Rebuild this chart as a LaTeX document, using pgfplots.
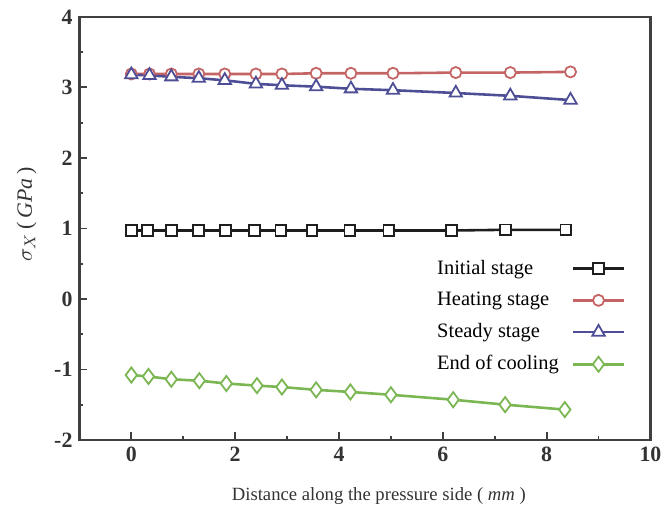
\documentclass[border=0pt]{standalone}
\usepackage{fontspec}
\setmainfont{Liberation Serif}
\usepackage{pgfplots}
\pgfplotsset{compat=1.18}

\definecolor{cinit}{RGB}{30,30,30}
\definecolor{cheat}{RGB}{196,100,100}
\definecolor{csteady}{RGB}{78,78,150}
\definecolor{ccool}{RGB}{122,182,82}

\begin{document}
\begin{tikzpicture}
\begin{axis}[
  scale only axis,
  width=287.5pt, height=213pt,
  xmin=-1, xmax=10, ymin=-2, ymax=4,
  xtick={0,2,4,6,8,10},
  ytick={-2,-1,0,1,2,3,4},
  minor x tick num=1,
  minor y tick num=1,
  tick pos=left,
  tick align=inside,
  major tick length=4pt,
  minor tick length=2pt,
  axis line style={line width=1.1pt, black!75},
  every tick/.style={line width=0.9pt, black!75},
  /pgf/number format/assume math mode=true,
  tick label style={font=\fontsize{11}{12}\selectfont\bfseries, black!80},
  xlabel={Distance along the pressure side ( \textit{mm} )},
  xlabel style={font=\fontsize{9.4}{11}\selectfont, black!80, yshift=-6pt, xshift=7pt},
  ylabel={$\sigma_{X}$\,(\,\textit{GPa}\,)},
  ylabel style={font=\fontsize{11}{12}\selectfont, black!80, yshift=2pt, xshift=7pt},
  legend style={draw=none, fill=none, at={(rel axis cs:0.967,0.445)}, anchor=north east,
    font=\fontsize{10.3}{11}\selectfont, row sep=3.5pt},
  legend cell align=left,
  legend plot pos=right,
  legend image code/.code={
    \path (0cm,0cm);
    \draw[mark repeat=2,mark phase=2] plot coordinates {(0.16cm,0cm) (0.61cm,0cm) (1.06cm,0cm)};
  },
  every axis plot/.append style={line width=1.3pt, mark options={solid, fill=white, line width=0.9pt}},
]

\addplot[cinit, mark=square*, mark size=2.7pt] coordinates {
  (0,0.97) (0.31,0.97) (0.77,0.97) (1.29,0.97) (1.81,0.97) (2.37,0.97) (2.88,0.97)
  (3.48,0.97) (4.21,0.97) (4.96,0.97) (6.17,0.97) (7.21,0.98) (8.37,0.98)
};
\addlegendentry{Initial stage}

\addplot[cheat, mark=*, mark size=2.8pt] coordinates {
  (0,3.19) (0.35,3.19) (0.77,3.19) (1.3,3.19) (1.8,3.19) (2.4,3.19) (2.9,3.19)
  (3.56,3.20) (4.23,3.20) (5.04,3.20) (6.25,3.21) (7.3,3.21) (8.46,3.22)
};
\addlegendentry{Heating stage}

\addplot[csteady, mark=triangle*, mark size=3.6pt] coordinates {
  (0,3.18) (0.35,3.17) (0.77,3.15) (1.3,3.13) (1.8,3.10) (2.4,3.05) (2.9,3.03)
  (3.56,3.01) (4.23,2.98) (5.04,2.96) (6.25,2.92) (7.3,2.88) (8.46,2.82)
};
\addlegendentry{Steady stage}

\addplot[ccool, mark=diamond*, mark size=3.8pt] coordinates {
  (0,-1.08) (0.33,-1.10) (0.77,-1.14) (1.31,-1.16) (1.83,-1.20) (2.42,-1.23) (2.9,-1.25)
  (3.56,-1.29) (4.22,-1.32) (5.0,-1.36) (6.2,-1.43) (7.2,-1.50) (8.35,-1.57)
};
\addlegendentry{End of cooling}

\end{axis}
\path[use as bounding box] ([shift={(-40pt,-33.5pt)}]current axis.south west)
  rectangle ([shift={(6.5pt,8.5pt)}]current axis.north east);
\end{tikzpicture}
\end{document}
